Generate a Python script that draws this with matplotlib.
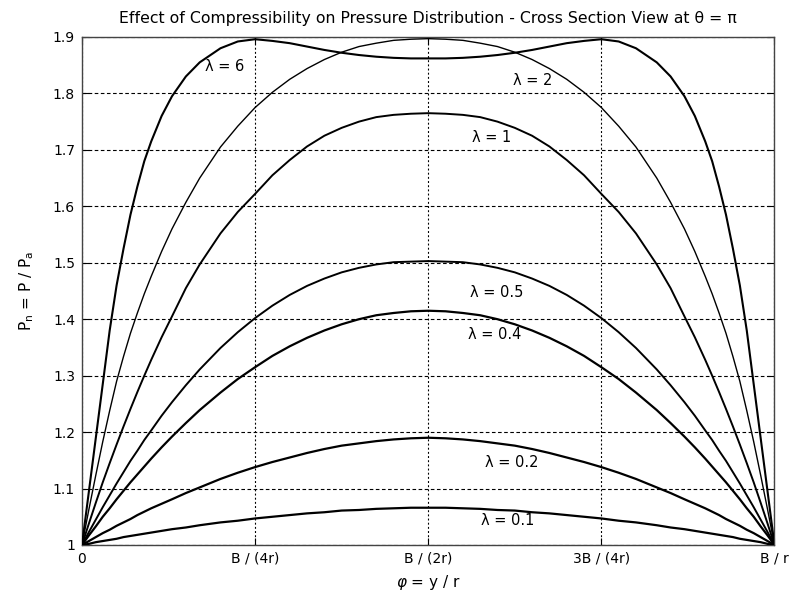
import numpy as np
import matplotlib
matplotlib.use('Agg')
import matplotlib.pyplot as plt

plt.rcParams['font.family'] = ['DejaVu Sans']
plt.rcParams['lines.scale_dashes'] = False

# position across the bearing, as a fraction of B / r
phi = [0, 0.01, 0.02, 0.03, 0.04, 0.05, 0.06, 0.07, 0.08, 0.09, 0.1, 0.115, 0.13, 0.15,
       0.17, 0.2, 0.225, 0.25, 0.275, 0.3, 0.325, 0.35, 0.375, 0.4, 0.425, 0.45, 0.475, 0.5,
       0.525, 0.55, 0.575, 0.6, 0.625, 0.65, 0.675, 0.7, 0.725, 0.75, 0.775, 0.8, 0.83,
       0.85, 0.87, 0.885, 0.9, 0.91, 0.92, 0.93, 0.94, 0.95, 0.96, 0.97, 0.98, 0.99, 1.0]

# Pn = P / Pa for each lambda
p_01 = [1.000, 1.002, 1.005, 1.007, 1.009, 1.011, 1.014, 1.016, 1.018, 1.020, 1.022, 1.025, 1.028, 1.031,
        1.035, 1.040, 1.043, 1.047, 1.050, 1.053, 1.056, 1.058, 1.061, 1.062, 1.064, 1.065, 1.066, 1.066,
        1.066, 1.065, 1.064, 1.062, 1.061, 1.058, 1.056, 1.053, 1.050, 1.047, 1.043, 1.040, 1.035,
        1.031, 1.028, 1.025, 1.022, 1.020, 1.018, 1.016, 1.014, 1.011, 1.009, 1.007, 1.005, 1.002, 1.000]
p_02 = [1.000, 1.007, 1.014, 1.021, 1.027, 1.034, 1.040, 1.046, 1.053, 1.059, 1.065, 1.073, 1.081, 1.092,
        1.102, 1.117, 1.128, 1.138, 1.147, 1.155, 1.163, 1.170, 1.176, 1.180, 1.184, 1.187, 1.189, 1.190,
        1.189, 1.187, 1.184, 1.180, 1.176, 1.170, 1.163, 1.155, 1.147, 1.138, 1.128, 1.117, 1.102,
        1.092, 1.081, 1.073, 1.065, 1.059, 1.053, 1.046, 1.040, 1.034, 1.027, 1.021, 1.014, 1.007, 1.000]
p_04 = [1.000, 1.017, 1.033, 1.050, 1.065, 1.081, 1.096, 1.111, 1.125, 1.139, 1.153, 1.173, 1.192, 1.216,
        1.239, 1.270, 1.294, 1.315, 1.335, 1.352, 1.367, 1.380, 1.391, 1.400, 1.407, 1.411, 1.414, 1.415,
        1.414, 1.411, 1.407, 1.400, 1.391, 1.380, 1.367, 1.352, 1.335, 1.315, 1.294, 1.270, 1.239,
        1.216, 1.192, 1.173, 1.153, 1.139, 1.125, 1.111, 1.096, 1.081, 1.065, 1.050, 1.033, 1.017, 1.000]
p_05 = [1.000, 1.023, 1.045, 1.067, 1.088, 1.109, 1.129, 1.149, 1.167, 1.186, 1.203, 1.229, 1.253, 1.283,
        1.311, 1.349, 1.377, 1.402, 1.424, 1.443, 1.459, 1.472, 1.483, 1.491, 1.497, 1.501, 1.502, 1.503,
        1.502, 1.501, 1.497, 1.491, 1.483, 1.472, 1.459, 1.443, 1.424, 1.402, 1.377, 1.349, 1.311,
        1.283, 1.253, 1.229, 1.203, 1.186, 1.167, 1.149, 1.129, 1.109, 1.088, 1.067, 1.045, 1.023, 1.000]
p_1 = [1.000, 1.038, 1.075, 1.111, 1.145, 1.178, 1.210, 1.241, 1.271, 1.300, 1.328, 1.368, 1.405, 1.455,
       1.497, 1.552, 1.590, 1.622, 1.655, 1.682, 1.706, 1.725, 1.739, 1.750, 1.758, 1.762, 1.764, 1.765,
       1.764, 1.762, 1.758, 1.750, 1.739, 1.725, 1.706, 1.682, 1.655, 1.622, 1.590, 1.552, 1.497,
       1.455, 1.405, 1.368, 1.328, 1.300, 1.271, 1.241, 1.210, 1.178, 1.145, 1.111, 1.075, 1.038, 1.000]
p_2 = [1.000, 1.063, 1.124, 1.183, 1.238, 1.290, 1.334, 1.375, 1.411, 1.445, 1.476, 1.520, 1.560, 1.607,
       1.650, 1.705, 1.742, 1.775, 1.802, 1.825, 1.844, 1.860, 1.873, 1.883, 1.889, 1.894, 1.896, 1.897,
       1.896, 1.894, 1.889, 1.883, 1.873, 1.860, 1.844, 1.825, 1.802, 1.775, 1.742, 1.705, 1.650,
       1.607, 1.560, 1.520, 1.476, 1.445, 1.411, 1.375, 1.334, 1.290, 1.238, 1.183, 1.124, 1.063, 1.000]
p_6 = [1.000, 1.095, 1.190, 1.285, 1.380, 1.460, 1.525, 1.585, 1.635, 1.680, 1.715, 1.760, 1.795, 1.830,
       1.855, 1.880, 1.892, 1.896, 1.893, 1.889, 1.883, 1.877, 1.872, 1.868, 1.865, 1.863, 1.862, 1.862,
       1.862, 1.863, 1.865, 1.868, 1.872, 1.877, 1.883, 1.889, 1.893, 1.896, 1.892, 1.880, 1.855,
       1.830, 1.795, 1.760, 1.715, 1.680, 1.635, 1.585, 1.525, 1.460, 1.380, 1.285, 1.190, 1.095, 1.000]

curves = [p_6, p_2, p_1, p_05, p_04, p_02, p_01]
widths = [1.5, 1.0, 1.4, 1.4, 1.6, 1.6, 1.6]

labels = ['\u03bb = 6', '\u03bb = 2', '\u03bb = 1', '\u03bb = 0.5', '\u03bb = 0.4', '\u03bb = 0.2', '\u03bb = 0.1']
label_x = [0.178, 0.623, 0.563, 0.561, 0.558, 0.582, 0.576]
label_y = [1.848, 1.823, 1.722, 1.448, 1.373, 1.147, 1.044]

xticks = [0, 0.25, 0.5, 0.75, 1.0]
xticklabels = ['0', 'B / (4r)', 'B / (2r)', '3B / (4r)', 'B / r']
yticks = [1.0, 1.1, 1.2, 1.3, 1.4, 1.5, 1.6, 1.7, 1.8, 1.9]
yticklabels = ['1', '1.1', '1.2', '1.3', '1.4', '1.5', '1.6', '1.7', '1.8', '1.9']

fig = plt.figure(figsize=(7.99, 6.01), dpi=100)
ax = fig.add_axes([0.1026, 0.0932, 0.8667, 0.8453])

for p, w in zip(curves, widths):
    ax.plot(phi, p, color='black', linewidth=w, zorder=3)

for t, x, y in zip(labels, label_x, label_y):
    ax.text(x, y, t, fontsize=10.5, ha='left', va='center', zorder=4)

ax.set_xlim(0, 1)
ax.set_ylim(1, 1.9)
ax.set_xticks(xticks)
ax.set_xticklabels(xticklabels)
ax.set_yticks(yticks)
ax.set_yticklabels(yticklabels)
ax.tick_params(direction='in', length=5, width=0.8, labelsize=10, top=True, right=True, pad=5)

ax.xaxis.grid(True, color='black', linewidth=0.8, linestyle=(0, (1.4, 1.6)))
ax.yaxis.grid(True, color='black', linewidth=0.8, linestyle=(0, (2.6, 1.8)))
ax.set_axisbelow(True)
for s in ax.spines.values():
    s.set_color('#444444')
    s.set_linewidth(1.0)

ax.set_title('Effect of Compressibility on Pressure Distribution - Cross Section View at \u03b8 = \u03c0',
             fontsize=11.3, pad=10)
ax.set_xlabel(r'$\varphi$ = y / r', fontsize=11, labelpad=5)
ax.set_ylabel(r'P$_\mathregular{n}$ = P / P$_\mathregular{a}$', fontsize=11, labelpad=12)

fig.savefig('out.png')
